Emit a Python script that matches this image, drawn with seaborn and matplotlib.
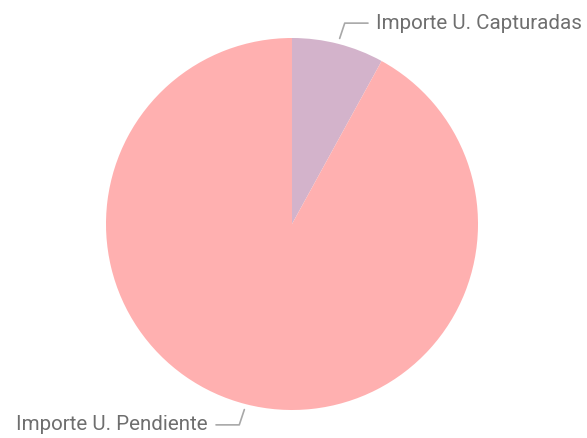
import numpy as np
import matplotlib.pyplot as plt
import seaborn as sns

sns.set_theme(style="white")
plt.rcParams['font.family'] = ['Roboto', 'DejaVu Sans']

# datos
etiquetas = ['Importe U. Capturadas', 'Importe U. Pendiente']
valores = [8.0, 92.0]
colores = ['#D3B3CB', '#FFB0B0']

fig = plt.figure(figsize=(5.87, 4.38), dpi=100)
ax = fig.add_axes([106 / 587, 28 / 438, 372 / 587, 372 / 438])

wedges, _ = ax.pie(valores, colors=colores, startangle=90, counterclock=False,
                   radius=1, wedgeprops=dict(linewidth=0))
ax.set_xlim(-1, 1)
ax.set_ylim(-1, 1)
ax.set_aspect('equal')
ax.axis('off')

# etiquetas con lineas guia
for w, txt in zip(wedges, etiquetas):
    ang = np.deg2rad((w.theta1 + w.theta2) / 2)
    x, y = np.cos(ang), np.sin(ang)
    sx = np.sign(x)
    p0 = (x * 1.03, y * 1.03)
    p1 = (x * 1.14, y * 1.115)
    p2 = (p1[0] + sx * 0.125, p1[1])
    ax.plot([p0[0], p1[0], p2[0]], [p0[1], p1[1], p2[1]], color='#A8A8A8',
            lw=1.2, clip_on=False)
    ax.text(p2[0] + sx * 0.045, p2[1], txt, ha='left' if sx > 0 else 'right',
            va='center', fontsize=14.8, color='#6E6E6E', clip_on=False)

plt.savefig('out.png', dpi=100)
